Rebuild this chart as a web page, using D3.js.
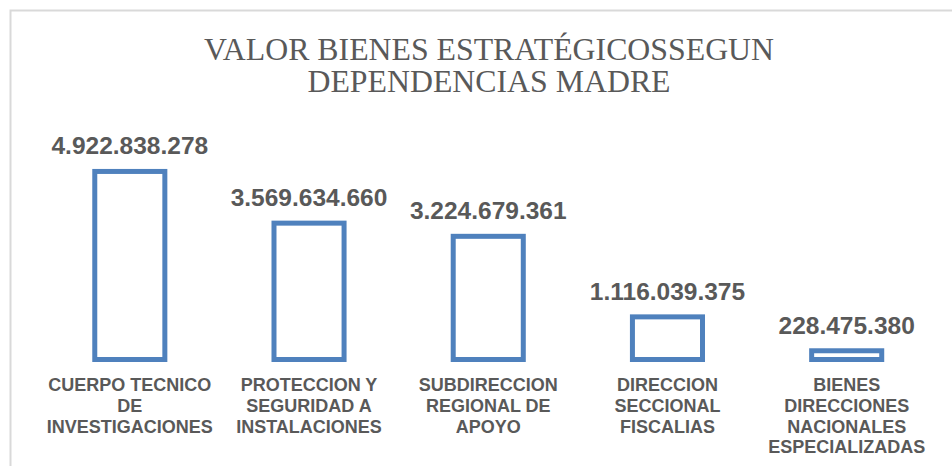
<!DOCTYPE html>
<html>
<head>
<meta charset="utf-8">
<script src="https://cdn.jsdelivr.net/npm/d3@7"></script>
<style>
  html, body { margin: 0; padding: 0; background: #ffffff; }
  svg { display: block; }
</style>
</head>
<body>
<div id="chart"></div>
<script>
const titleLines = ["VALOR BIENES ESTRATÉGICOSSEGUN", "DEPENDENCIAS MADRE"];
const categories = [
  "CUERPO TECNICO DE INVESTIGACIONES",
  "PROTECCION Y SEGURIDAD A INSTALACIONES",
  "SUBDIRECCION REGIONAL DE APOYO",
  "DIRECCION SECCIONAL FISCALIAS",
  "BIENES DIRECCIONES NACIONALES ESPECIALIZADAS"
];
const categoryLines = [
  ["CUERPO TECNICO", "DE", "INVESTIGACIONES"],
  ["PROTECCION Y", "SEGURIDAD A", "INSTALACIONES"],
  ["SUBDIRECCION", "REGIONAL DE", "APOYO"],
  ["DIRECCION", "SECCIONAL", "FISCALIAS"],
  ["BIENES", "DIRECCIONES", "NACIONALES", "ESPECIALIZADAS"]
];
const values = [4922838278, 3569634660, 3224679361, 1116039375, 228475380];
const valueLabels = ["4.922.838.278", "3.569.634.660", "3.224.679.361", "1.116.039.375", "228.475.380"];
const yMax = 6000000000;

const W = 952, H = 466;
const svg = d3.select("#chart").append("svg").attr("width", W).attr("height", H);

// chart frame
svg.append("rect")
  .attr("x", 10.5).attr("y", 10.5)
  .attr("width", W + 20).attr("height", H + 20)
  .attr("fill", "#ffffff")
  .attr("stroke", "#d9d9d9").attr("stroke-width", 2);

// title
const title = svg.append("text")
  .attr("text-anchor", "middle")
  .attr("font-family", "'Liberation Serif', 'Times New Roman', serif")
  .attr("font-size", 31.8)
  .attr("fill", "#595959");
titleLines.forEach((t, i) => {
  title.append("tspan").attr("x", 489).attr("y", 59.5 + i * 32.3).text(t);
});

const x = d3.scaleBand()
  .domain(categories)
  .range([40.2, 936.3])
  .paddingInner(0.609)
  .paddingOuter(0.3045);

const y = d3.scaleLinear()
  .domain([0, yMax])
  .range([359.5, 130.3]);

const data = categories.map((c, i) => ({ c, v: values[i], label: valueLabels[i], lines: categoryLines[i] }));

// bars (hollow)
svg.append("g").selectAll("rect")
  .data(data)
  .join("rect")
  .attr("x", d => x(d.c))
  .attr("y", d => y(d.v))
  .attr("width", x.bandwidth())
  .attr("height", d => y(0) - y(d.v))
  .attr("fill", "#ffffff")
  .attr("stroke", "#4f81bd")
  .attr("stroke-width", 5);

// value labels
svg.append("g").selectAll("text")
  .data(data)
  .join("text")
  .attr("x", d => x(d.c) + x.bandwidth() / 2)
  .attr("y", d => y(d.v) - 2.5 - 14.5)
  .attr("text-anchor", "middle")
  .attr("font-family", "'Liberation Sans', Arial, sans-serif")
  .attr("font-weight", "bold")
  .attr("font-size", 24.5)
  .attr("fill", "#595959")
  .text(d => d.label);

// category labels
const xAxis = svg.append("g");
data.forEach(d => {
  const t = xAxis.append("text")
    .attr("text-anchor", "middle")
    .attr("font-family", "'Liberation Sans', Arial, sans-serif")
    .attr("font-weight", "bold")
    .attr("font-size", 18)
    .attr("fill", "#595959");
  d.lines.forEach((ln, j) => {
    t.append("tspan")
      .attr("x", x(d.c) + x.bandwidth() / 2)
      .attr("y", 391 + j * 20.8)
      .text(ln);
  });
});
</script>
</body>
</html>
